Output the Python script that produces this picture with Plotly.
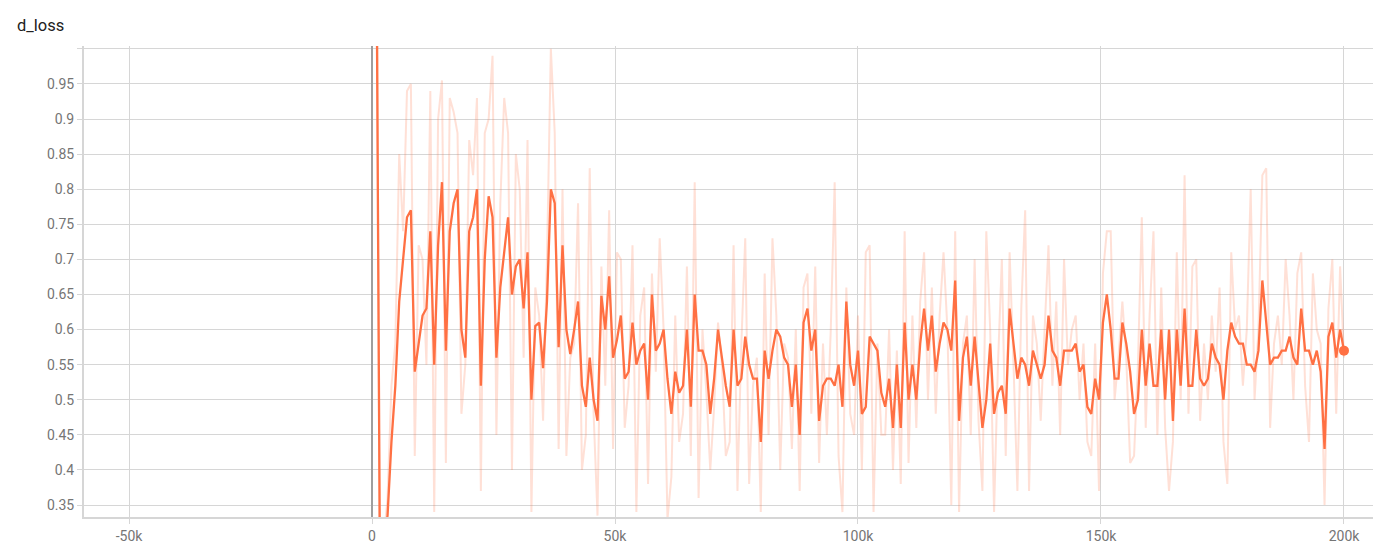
import plotly.graph_objects as go


# ----------------------------
# DATA (d_loss)
# ----------------------------

steps = list(range(800, 200001, 800))

smoothed = [
    1.30, 0.30, 0.30, 0.335, 0.44, 0.52, 0.64, 0.70, 0.76, 0.77,
    0.54, 0.58, 0.62, 0.63, 0.74, 0.55, 0.72, 0.81, 0.57, 0.74,
    0.78, 0.80, 0.60, 0.56, 0.74, 0.76, 0.80, 0.52, 0.70, 0.79,
    0.76, 0.56, 0.66, 0.71, 0.76, 0.65, 0.69, 0.70, 0.63, 0.71,
    0.50, 0.605, 0.61, 0.545, 0.64, 0.80, 0.78, 0.575, 0.72, 0.60,
    0.565, 0.60, 0.64, 0.52, 0.49, 0.56, 0.50, 0.47, 0.648, 0.60,
    0.676, 0.56, 0.585, 0.62, 0.53, 0.54, 0.61, 0.55, 0.57, 0.58,
    0.50, 0.65, 0.57, 0.58, 0.60, 0.53, 0.48, 0.54, 0.51, 0.52,
    0.60, 0.49, 0.65, 0.57, 0.57, 0.55, 0.48, 0.53, 0.60, 0.56,
    0.52, 0.49, 0.60, 0.52, 0.53, 0.59, 0.55, 0.53, 0.53, 0.44,
    0.57, 0.53, 0.57, 0.60, 0.59, 0.56, 0.55, 0.49, 0.55, 0.45,
    0.61, 0.63, 0.57, 0.60, 0.47, 0.52, 0.53, 0.53, 0.52, 0.55,
    0.49, 0.64, 0.55, 0.52, 0.57, 0.48, 0.49, 0.59, 0.58, 0.57,
    0.51, 0.49, 0.53, 0.46, 0.55, 0.46, 0.61, 0.50, 0.55, 0.50,
    0.58, 0.63, 0.57, 0.62, 0.54, 0.58, 0.61, 0.60, 0.57, 0.67,
    0.47, 0.56, 0.59, 0.52, 0.59, 0.53, 0.46, 0.50, 0.58, 0.48,
    0.51, 0.52, 0.48, 0.63, 0.58, 0.53, 0.56, 0.55, 0.52, 0.57,
    0.55, 0.53, 0.55, 0.62, 0.57, 0.56, 0.52, 0.57, 0.57, 0.57,
    0.58, 0.54, 0.55, 0.49, 0.48, 0.53, 0.50, 0.61, 0.65, 0.60,
    0.53, 0.53, 0.61, 0.58, 0.54, 0.48, 0.50, 0.60, 0.52, 0.58,
    0.52, 0.52, 0.60, 0.50, 0.60, 0.47, 0.60, 0.52, 0.63, 0.52,
    0.52, 0.60, 0.53, 0.52, 0.53, 0.58, 0.56, 0.55, 0.50, 0.57,
    0.61, 0.59, 0.58, 0.58, 0.55, 0.55, 0.54, 0.57, 0.67, 0.61,
    0.55, 0.56, 0.56, 0.57, 0.57, 0.59, 0.56, 0.55, 0.63, 0.57,
    0.57, 0.55, 0.57, 0.54, 0.43, 0.59, 0.61, 0.56, 0.60, 0.57,
]

raw = [
    1.50, 0.20, 0.30, 0.36, 0.52, 0.58, 0.85, 0.74, 0.94, 0.95,
    0.42, 0.72, 0.70, 0.55, 0.94, 0.34, 0.90, 0.955, 0.41, 0.93,
    0.91, 0.88, 0.48, 0.55, 0.87, 0.82, 0.93, 0.37, 0.88, 0.90,
    0.99, 0.45, 0.78, 0.93, 0.88, 0.40, 0.85, 0.80, 0.56, 0.87,
    0.34, 0.66, 0.62, 0.47, 0.70, 1.00, 0.88, 0.43, 0.80, 0.42,
    0.56, 0.58, 0.78, 0.40, 0.45, 0.83, 0.48, 0.335, 0.69, 0.52,
    0.77, 0.43, 0.71, 0.70, 0.46, 0.52, 0.72, 0.34, 0.62, 0.66,
    0.38, 0.68, 0.54, 0.73, 0.60, 0.33, 0.39, 0.62, 0.44, 0.48,
    0.69, 0.42, 0.81, 0.36, 0.60, 0.51, 0.40, 0.49, 0.61, 0.55,
    0.42, 0.44, 0.72, 0.37, 0.58, 0.73, 0.38, 0.52, 0.56, 0.34,
    0.68, 0.45, 0.73, 0.62, 0.40, 0.58, 0.56, 0.43, 0.60, 0.37,
    0.66, 0.68, 0.48, 0.69, 0.41, 0.58, 0.45, 0.60, 0.81, 0.42,
    0.34, 0.66, 0.48, 0.45, 0.62, 0.40, 0.71, 0.72, 0.34, 0.58,
    0.45, 0.45, 0.60, 0.40, 0.57, 0.38, 0.74, 0.41, 0.62, 0.46,
    0.64, 0.71, 0.50, 0.66, 0.48, 0.62, 0.71, 0.60, 0.35, 0.74,
    0.34, 0.58, 0.62, 0.45, 0.70, 0.47, 0.37, 0.74, 0.60, 0.34,
    0.55, 0.70, 0.42, 0.71, 0.55, 0.37, 0.63, 0.77, 0.37, 0.62,
    0.58, 0.47, 0.60, 0.72, 0.52, 0.64, 0.45, 0.70, 0.55, 0.60,
    0.62, 0.50, 0.58, 0.44, 0.42, 0.58, 0.37, 0.68, 0.74, 0.74,
    0.50, 0.56, 0.64, 0.56, 0.41, 0.42, 0.55, 0.76, 0.46, 0.62,
    0.74, 0.45, 0.66, 0.46, 0.37, 0.44, 0.71, 0.50, 0.82, 0.48,
    0.69, 0.70, 0.47, 0.58, 0.50, 0.62, 0.54, 0.66, 0.44, 0.38,
    0.71, 0.60, 0.62, 0.52, 0.60, 0.80, 0.50, 0.60, 0.82, 0.83,
    0.46, 0.58, 0.62, 0.55, 0.70, 0.62, 0.50, 0.68, 0.71, 0.52,
    0.44, 0.68, 0.60, 0.58, 0.35, 0.63, 0.70, 0.48, 0.69, 0.56,
]

y_ticks = [0.35, 0.4, 0.45, 0.5, 0.55, 0.6, 0.65, 0.7, 0.75, 0.8, 0.85, 0.9, 0.95, 1.0]
y_labels = ["0.35", "0.4", "0.45", "0.5", "0.55", "0.6", "0.65", "0.7",
            "0.75", "0.8", "0.85", "0.9", "0.95", ""]
x_ticks = [-50000, 0, 50000, 100000, 150000, 200000]
x_labels = ["-50k", "0", "50k", "100k", "150k", "200k"]

ORANGE = "#ff7043"
GRID = "#d6d6d6"


# ----------------------------
# FIGURE
# ----------------------------

fig = go.Figure()

# raw values (faint)
fig.add_trace(go.Scatter(
    x=steps,
    y=raw,
    mode="lines",
    line=dict(color="rgba(255,112,67,0.22)", width=2),
    showlegend=False,
    hoverinfo="skip",
))

# smoothed values
fig.add_trace(go.Scatter(
    x=steps,
    y=smoothed,
    mode="lines",
    line=dict(color=ORANGE, width=2.3),
    showlegend=False,
))

# last point marker
fig.add_trace(go.Scatter(
    x=[steps[-1]],
    y=[smoothed[-1]],
    mode="markers",
    marker=dict(color=ORANGE, size=10),
    showlegend=False,
))

fig.update_layout(
    width=1373,
    height=547,
    margin=dict(l=84, r=0, t=46, b=30),
    paper_bgcolor="white",
    plot_bgcolor="white",
    font=dict(family="Roboto, sans-serif", size=14, color="#757575"),
    title=dict(
        text="d_loss",
        xref="container", yref="container",
        x=17 / 1373, y=1 - 25 / 547,
        xanchor="left", yanchor="middle",
        font=dict(family="Roboto, sans-serif", size=16.5, color="#212121"),
    ),
    xaxis=dict(
        range=[-59260, 205970],
        tickvals=x_ticks,
        ticktext=x_labels,
        showgrid=True,
        gridcolor=GRID,
        gridwidth=1,
        zeroline=True,
        zerolinecolor="#9e9e9e",
        zerolinewidth=2,
        showline=True,
        linecolor=GRID,
        linewidth=2,
        ticks="outside",
        ticklen=5,
        tickcolor=GRID,
    ),
    yaxis=dict(
        range=[0.333, 1.004],
        tickvals=y_ticks,
        ticktext=y_labels,
        showgrid=True,
        gridcolor=GRID,
        gridwidth=1,
        zeroline=False,
        showline=True,
        linecolor=GRID,
        linewidth=2,
        ticks="outside",
        ticklen=5,
        tickcolor=GRID,
    ),
)

# drop the browser's default 8px body margin so the figure fills the window
fig.write_html(
    "out.html",
    config={"displayModeBar": False},
    post_script="document.body.style.margin='0px';",
)
